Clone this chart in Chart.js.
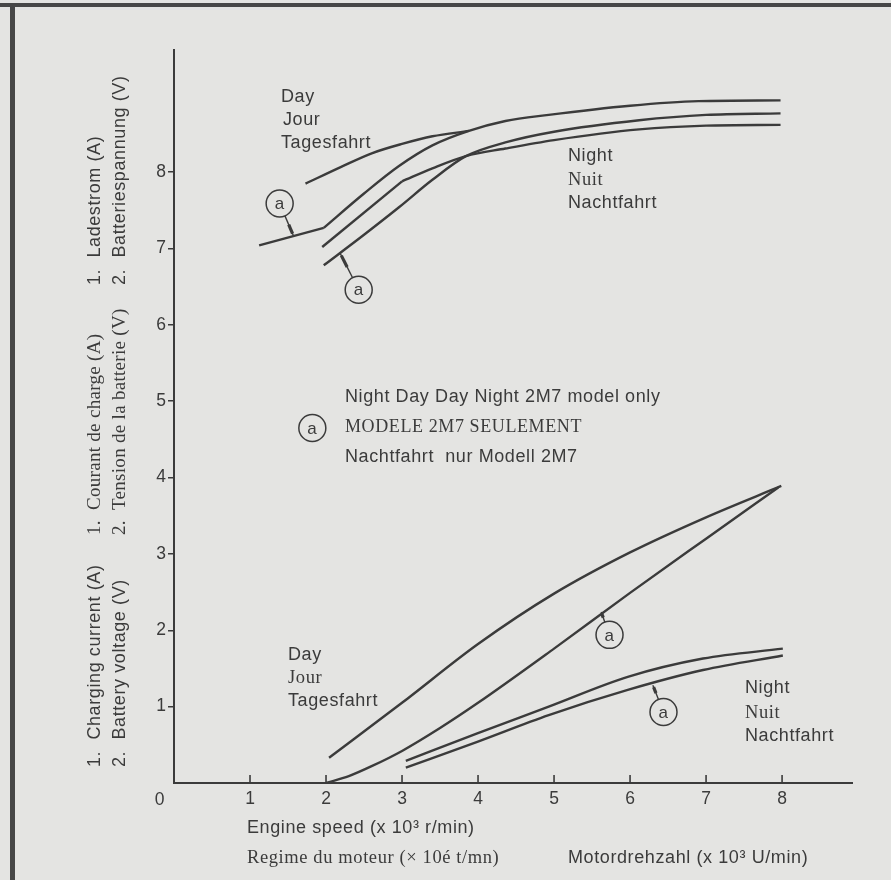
<!DOCTYPE html>
<html lang="en">
<head>
<meta charset="UTF-8">
<title>Charging current / battery voltage</title>
<script src="https://cdn.jsdelivr.net/npm/chart.js"></script>
<style>
  html, body { margin: 0; padding: 0; background: #e4e4e2; }
  #wrap { position: relative; width: 891px; height: 880px; overflow: hidden; }
  #frameTop { position: absolute; left: 0; top: 3px; width: 891px; height: 4px; background: #474747; }
  #frameLeft { position: absolute; left: 10px; top: 3px; width: 5px; height: 877px; background: #474747; }
  canvas { position: absolute; left: 0; top: 0; }
</style>
</head>
<body>
<div id="wrap">
  <div id="frameTop"></div>
  <div id="frameLeft"></div>
  <canvas id="myChart" width="891" height="880"></canvas>
</div>
<script>
// x = engine speed (x1000 r/min), upper curves = battery voltage, lower curves = charging current
var xTicks = [1, 2, 3, 4, 5, 6, 7, 8];
var yTicks = [1, 2, 3, 4, 5, 6, 7, 8];

// upper group
var upDay = [[1.73, 7.85], [2.2, 8.07], [2.61, 8.25], [3.0, 8.37], [3.4, 8.47], [3.88, 8.54]];
var upDay2m7Start = [[1.12, 7.04], [1.97, 7.27]];
var upDay2m7 = [[1.97, 7.27], [2.5, 7.72], [2.96, 8.08], [3.4, 8.35], [3.88, 8.54], [4.36, 8.67], [4.93, 8.75], [6.0, 8.87], [6.9, 8.93], [7.98, 8.94]];
var upNightStart = [[1.95, 7.02], [3.0, 7.88]];
var upNight = [[3.0, 7.88], [3.4, 8.05], [3.84, 8.21], [4.36, 8.31], [5.0, 8.42], [6.12, 8.56], [7.0, 8.61], [7.98, 8.62]];
var upNight2m7 = [[1.97, 6.78], [2.5, 7.18], [2.96, 7.54], [3.4, 7.9], [3.84, 8.21], [4.36, 8.39], [5.0, 8.53], [6.12, 8.68], [7.0, 8.75], [7.98, 8.77]];

// lower group
var lowDay = [[2.04, 0.33], [3.0, 1.05], [4.0, 1.82], [5.0, 2.48], [6.0, 3.02], [7.0, 3.48], [7.99, 3.89]];
var lowDay2m7 = [[2.0, 0.0], [2.3, 0.09], [2.6, 0.22], [3.0, 0.42], [3.5, 0.72], [4.0, 1.05], [5.0, 1.76], [6.0, 2.49], [7.0, 3.2], [7.95, 3.87]];
var lowNight = [[3.05, 0.29], [3.99, 0.65], [4.93, 1.0], [5.97, 1.39], [6.96, 1.63], [8.01, 1.76]];
var lowNight2m7 = [[3.05, 0.2], [3.99, 0.54], [4.93, 0.89], [5.97, 1.22], [6.96, 1.48], [8.01, 1.67]];

// circled "a" marks: circle centre x,y then the point on the curve the leader goes to
var markers = [
  [1.39, 7.59, 1.57, 7.17],
  [2.43, 6.46, 2.19, 6.93],
  [5.73, 1.94, 5.62, 2.24],
  [6.44, 0.93, 6.30, 1.28]
];
var legendMark = [1.82, 4.65];

var ink = '#3b3b3b';
var bg = '#e4e4e2';
var sans = '"Liberation Sans", Arial, sans-serif';
var serif = '"Liberation Serif", "Times New Roman", serif';

function pts(arr) {
  return arr.map(function (p) { return {x: p[0], y: p[1]}; });
}

function curve(arr, smooth) {
  return {
    data: pts(arr),
    borderColor: ink,
    borderWidth: 2.4,
    pointRadius: 0,
    fill: false,
    tension: 0,
    cubicInterpolationMode: smooth ? 'monotone' : 'default'
  };
}

var notes = {
  id: 'notes',
  afterDraw: function (chart) {
    var ctx = chart.ctx;
    var xs = chart.scales.x, ys = chart.scales.y;

    function txt(str, x, y, font, align) {
      ctx.font = font;
      ctx.textAlign = align || 'left';
      ctx.textBaseline = 'middle';
      ctx.fillText(str, x, y);
    }
    function vtxt(str, x, y, font) {
      ctx.save();
      ctx.translate(x, y);
      ctx.rotate(-Math.PI / 2);
      txt(str, 0, 0, font);
      ctx.restore();
    }
    function ring(cx, cy) {
      ctx.beginPath();
      ctx.arc(cx, cy, 13.5, 0, Math.PI * 2);
      ctx.fillStyle = bg;
      ctx.fill();
      ctx.lineWidth = 1.5;
      ctx.stroke();
      ctx.fillStyle = ink;
      txt('a', cx, cy + 1, '17px ' + sans, 'center');
    }

    ctx.save();
    ctx.fillStyle = ink;
    ctx.strokeStyle = ink;
    ctx.letterSpacing = '0.6px';

    // x tick marks point up into the plot
    ctx.lineWidth = 1.6;
    xTicks.forEach(function (v) {
      var px = xs.getPixelForValue(v);
      ctx.beginPath();
      ctx.moveTo(px, ys.bottom);
      ctx.lineTo(px, ys.bottom - 8);
      ctx.stroke();
    });
    txt('0', xs.left - 14, 800, '17.5px ' + sans, 'center');

    // leaders and circles
    markers.forEach(function (m) {
      var cx = xs.getPixelForValue(m[0]), cy = ys.getPixelForValue(m[1]);
      var px = xs.getPixelForValue(m[2]), py = ys.getPixelForValue(m[3]);
      var dx = cx - px, dy = cy - py, d = Math.hypot(dx, dy);
      var ux = dx / d, uy = dy / d;
      ctx.lineWidth = 1.4;
      ctx.beginPath();
      ctx.moveTo(px, py);
      ctx.lineTo(cx - ux * 13.5, cy - uy * 13.5);
      ctx.stroke();
      ctx.lineWidth = 3.2;
      ctx.beginPath();
      ctx.moveTo(px + ux * 2, py + uy * 2);
      ctx.lineTo(px + ux * (d - 13.5) * 0.55, py + uy * (d - 13.5) * 0.55);
      ctx.stroke();
      ring(cx, cy);
    });
    ring(xs.getPixelForValue(legendMark[0]), ys.getPixelForValue(legendMark[1]));

    // curve labels
    var f = '18px ' + sans, fs = '18.5px ' + serif;
    txt('Day', 281, 97, f);
    txt('Jour', 283, 120, f);
    txt('Tagesfahrt', 281, 143, f);
    txt('Night', 568, 156, f);
    txt('Nuit', 568, 180, fs);
    txt('Nachtfahrt', 568, 203, f);
    txt('Day', 288, 655, f);
    txt('Jour', 288, 678, fs);
    txt('Tagesfahrt', 288, 701, f);
    txt('Night', 745, 688, f);
    txt('Nuit', 745, 713, fs);
    txt('Nachtfahrt', 745, 736, f);

    // legend
    txt('Night Day Day Night 2M7 model only', 345, 397, f);
    txt('MODELE 2M7 SEULEMENT', 345, 427, '18px ' + serif);
    txt('Nachtfahrt  nur Modell 2M7', 345, 457, f);

    // x axis titles
    txt('Engine speed (x 10\u00b3 r/min)', 247, 828, f);
    txt('Regime du moteur (\u00d7 10\u00e9 t/mn)', 247, 858, '18.5px ' + serif);
    txt('Motordrehzahl (x 10\u00b3 U/min)', 568, 858, f);

    // y axis titles, three languages
    var fa = '18px ' + sans;
    vtxt('1.  Ladestrom (A)', 95, 285, fa);
    vtxt('2.  Batteriespannung (V)', 120, 285, fa);
    ctx.letterSpacing = '0.3px';
    vtxt('1.  Courant de charge (A)', 95, 535, '19px ' + serif);
    vtxt('2.  Tension de la batterie (V)', 120, 535, '19px ' + serif);
    ctx.letterSpacing = '0.6px';
    vtxt('1.  Charging current (A)', 95, 767, fa);
    vtxt('2.  Battery voltage (V)', 120, 767, fa);

    ctx.restore();
  }
};

Chart.defaults.font.family = sans;
Chart.defaults.color = ink;

var ctx = document.getElementById('myChart').getContext('2d');
var myChart = new Chart(ctx, {
  type: 'line',
  data: {
    datasets: [
      curve(upDay, true),
      curve(upDay2m7Start, false),
      curve(upDay2m7, true),
      curve(upNightStart, false),
      curve(upNight, true),
      curve(upNight2m7, true),
      curve(lowDay, true),
      curve(lowDay2m7, true),
      curve(lowNight, true),
      curve(lowNight2m7, true)
    ]
  },
  options: {
    responsive: false,
    animation: false,
    devicePixelRatio: 1,
    layout: { padding: { top: 50, right: 39, left: 0, bottom: 0 } },
    plugins: { legend: { display: false }, tooltip: { enabled: false } },
    scales: {
      x: {
        type: 'linear',
        min: 0,
        max: 8.92,
        afterBuildTicks: function (axis) {
          axis.ticks = xTicks.map(function (v) { return {value: v}; });
        },
        afterFit: function (axis) {
          axis.height = 97;
          axis.paddingLeft = 0;
          axis.paddingRight = 0;
        },
        grid: { drawOnChartArea: false, drawTicks: false },
        border: { display: true, color: ink, width: 2 },
        ticks: { padding: 6, maxRotation: 0, color: ink, font: { size: 17.5 } }
      },
      y: {
        type: 'linear',
        min: 0,
        max: 9.6,
        afterBuildTicks: function (axis) {
          axis.ticks = yTicks.map(function (v) { return {value: v}; });
        },
        afterFit: function (axis) {
          axis.width = 174;
          axis.paddingTop = 0;
          axis.paddingBottom = 0;
        },
        grid: { drawOnChartArea: false, drawTicks: true, tickLength: 6, color: ink, lineWidth: 1.5 },
        border: { display: true, color: ink, width: 2 },
        ticks: { padding: 2, color: ink, font: { size: 17.5 } }
      }
    }
  },
  plugins: [notes]
});
</script>
</body>
</html>
